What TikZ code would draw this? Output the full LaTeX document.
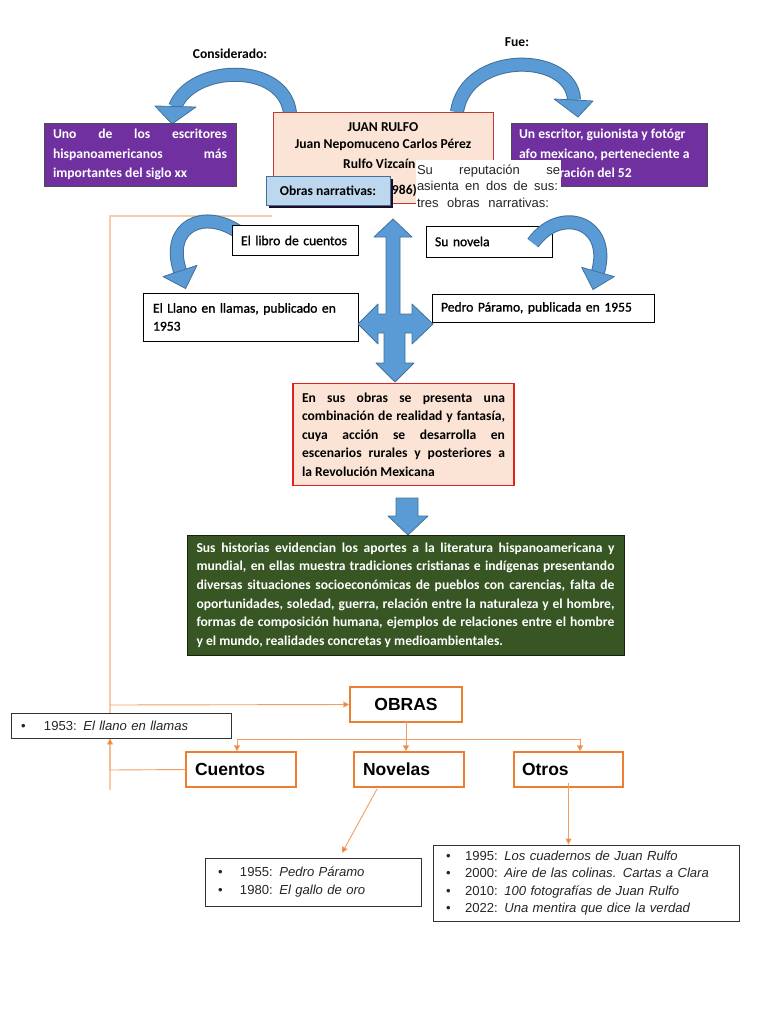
\documentclass[tikz,border=0pt]{standalone}
\usepackage{fontspec}
\setmainfont{Carlito}
\newfontfamily\calsemi[FakeBold=1.2]{Carlito}
\newfontfamily\arialf{Liberation Sans}
\usetikzlibrary{arrows.meta}
\definecolor{abl}{HTML}{5B9BD5}
\definecolor{abld}{HTML}{41719C}
\definecolor{purp}{HTML}{7030A0}
\definecolor{pinkf}{HTML}{FBE4D5}
\definecolor{jred}{HTML}{BE3A34}
\definecolor{rred}{HTML}{E3211F}
\definecolor{lblue}{HTML}{BDD7EE}
\definecolor{dgreen}{HTML}{375623}
\definecolor{orng}{HTML}{ED7D31}
\definecolor{oline}{HTML}{F19E64}
\definecolor{lorng}{HTML}{F8CBAD}
\newcommand{\jl}[2]{\makebox[#1][s]{#2}}
\begin{document}
\begin{tikzpicture}[x=1pt,y=-1pt,
  cband/.style={line width=12pt, abl, line cap=butt},
  cbando/.style={line width=14pt, abld, line cap=butt},
  ahead/.style={fill=abl, draw=abld, line width=0.8pt, line join=round},
  cfont/.style={font=\bfseries\fontsize{13.6}{18}\selectfont},
  purpbox/.style={draw=black!70, fill=purp, line width=0.9pt, text=white, inner sep=0pt, cfont},
  wbox/.style={draw=black, fill=white, line width=0.9pt, inner xsep=9pt, inner ysep=0pt, align=left, font=\calsemi\fontsize{13.6}{18}\selectfont},
  abox/.style={draw=black!80, line width=0.9pt, fill=white, inner ysep=0pt, align=left, text=black!85, font=\arialf\fontsize{13.1}{17.5}\selectfont},
  obox/.style={draw=orng, line width=1.3pt, fill=white, inner ysep=0pt, align=left, font=\arialf\bfseries\fontsize{17.5}{20}\selectfont},
  oarrow/.style={draw=oline, line width=0.9pt, -{Triangle[width=6pt,length=6pt,fill=orng]}},
  oln/.style={draw=oline, line width=0.9pt},
  paleln/.style={draw=lorng, line width=1.2pt}]
\useasboundingbox (0,0) rectangle (768,1024);
\fill[white] (0,0) rectangle (768,1024);

% ---------- top labels ----------
\node[cfont] (consid) at (230,54) {Considerado:};
\node[cfont] (fue) at (517,42) {Fue:};

% ---------- curved arrows (top) ----------
\draw[cbando] (290,113) .. controls (284,62) and (192,64) .. (175,107);
\draw[cband] (290,113) .. controls (284,62) and (192,64) .. (175,107);
\filldraw[ahead] (155,106) -- (196,107) -- (172,124) -- cycle;

\draw[cbando] (457,112) .. controls (466,50) and (572,52) .. (574,100);
\draw[cband] (457,112) .. controls (466,50) and (572,52) .. (574,100);
\filldraw[ahead] (554,99) -- (593,101) -- (578,117) -- cycle;

% ---------- purple boxes ----------
\node[purpbox, minimum width=192pt, minimum height=63pt] (lp) at (140,154.5)
  {\parbox{174pt}{\fontsize{13.6}{19.5}\selectfont\jl{174pt}{Uno de los escritores}\\\jl{174pt}{hispanoamericanos más}\\importantes del siglo xx}};
\node[purpbox, minimum width=196pt, minimum height=63pt] (rp) at (609,154.5)
  {\parbox{180pt}{\fontsize{13.6}{19.5}\selectfont\raggedright Un escritor, guionista y fotógr\\afo mexicano, perteneciente a\\la generación del 52}};

% ---------- Juan Rulfo box ----------
\node[draw=jred, fill=pinkf, line width=0.9pt, minimum width=220pt, minimum height=91pt, inner sep=0pt] (jbox) at (383,157.5) {};
\node[cfont] (jt1) at (383,127) {JUAN RULFO};
\node[cfont] (jt2) at (383,145) {Juan Nepomuceno Carlos Pérez};
\node[cfont] (jt3) at (383,164) {Rulfo Vizcaíno};
\node[cfont] (jt4) at (383,190) {(1917-1986)};

\fill[black!75!purp] (269,179) rectangle (393,208);
\node[draw=abld, fill=lblue, line width=0.8pt, minimum width=124pt, minimum height=29pt, inner sep=0pt, cfont] (obn) at (328,190.5) {Obras narrativas:};

\node[fill=white, minimum width=145pt, minimum height=52pt, inner sep=0pt, text=black!85] (rep) at (488.5,186)
  {\parbox{143pt}{\arialf\fontsize{13}{16.5}\selectfont\jl{143pt}{Su reputación se}\\\jl{141pt}{asienta en dos de sus:}\\\jl{132pt}{tres obras narrativas:}}};

% ---------- pale orange frame line ----------
\coordinate (ltop) at (110,216);
\coordinate (ltopr) at (272,216);
\coordinate (lbot) at (110,790);
\draw[paleln] (ltopr) -- (ltop) -- (lbot);

% ---------- second row ----------
\draw[cbando] (240,233) .. controls (205,208) and (165,225) .. (180,271);
\draw[cband] (240,233) .. controls (205,208) and (165,225) .. (180,271);
\filldraw[ahead] (163,276.6) -- (197,265.4) -- (185.6,288.5) -- cycle;

\node[wbox, text width=108pt, minimum height=30pt] (lib) at (295,240.5) {\mbox{El libro de cuentos}};
\node[wbox, text width=108pt, minimum height=31pt] (nov) at (489,241.5) {\mbox{Su novela}};

\draw[cbando] (533,243) .. controls (560,205) and (612,222) .. (598,272);
\draw[cband] (533,243) .. controls (560,205) and (612,222) .. (598,272);
\filldraw[ahead] (581.7,267.4) -- (614.3,276.6) -- (593,289.5) -- cycle;

\node[wbox, text width=195pt, minimum height=48pt, inner xsep=10pt] (lla) at (250.5,317) {\mbox{El Llano en llamas, publicado en}\\1953};
\node[wbox, text width=204pt, minimum height=28pt] (ped) at (543,308) {\mbox{Pedro Páramo, publicada en 1955}};

% ---------- blue cross arrow ----------
\filldraw[ahead] (393,219) -- (412,237) -- (400,237) -- (400,314) -- (412,314) -- (412,304) -- (433,324)
  -- (412,344) -- (412,333) -- (405,333) -- (405,363) -- (414,363) -- (395,382) -- (376,363)
  -- (384,363) -- (384,333) -- (378,333) -- (378,344) -- (358,324) -- (378,304) -- (378,314)
  -- (386,314) -- (386,237) -- (374,237) -- cycle;

% ---------- red box ----------
\node[draw=rred, fill=pinkf, line width=1.5pt, minimum width=221pt, minimum height=102pt, inner sep=0pt, cfont] (rbox) at (403.5,434.5)
  {\parbox{203pt}{\fontsize{13.6}{18.5}\selectfont\jl{203pt}{En sus obras se presenta una}\\\jl{203pt}{combinación de realidad y fantasía,}\\\jl{203pt}{cuya acción se desarrolla en}\\\jl{203pt}{escenarios rurales y posteriores a}\\la Revolución Mexicana}};

% ---------- down arrow ----------
\filldraw[ahead] (396,498) -- (418,498) -- (418,516) -- (428,516) -- (408,535) -- (388,516) -- (396,516) -- cycle;

% ---------- green box ----------
\node[draw=black!60!dgreen, fill=dgreen, line width=1pt, minimum width=437pt, minimum height=120pt, inner sep=0pt, text=white, cfont] (gbox) at (405.5,595)
  {\parbox{418pt}{\fontsize{13.6}{18.6}\selectfont\jl{418pt}{Sus historias evidencian los aportes a la literatura hispanoamericana y}\\\jl{418pt}{mundial, en ellas muestra tradiciones cristianas e indígenas presentando}\\\jl{418pt}{diversas situaciones socioeconómicas de pueblos con carencias, falta de}\\\jl{418pt}{oportunidades, soledad, guerra, relación entre la naturaleza y el hombre,}\\\jl{418pt}{formas de composición humana, ejemplos de relaciones entre el hombre}\\y el mundo, realidades concretas y medioambientales.}};

% ---------- OBRAS tree ----------
\node[obox, minimum width=112pt, minimum height=35pt, inner xsep=0pt, align=center] (obras) at (406,704.5) {OBRAS};
\node[obox, text width=92pt, inner xsep=9pt, minimum height=35pt] (cue) at (241,769.5) {Cuentos};
\node[obox, text width=92pt, inner xsep=9pt, minimum height=35pt] (nvl) at (409,769.5) {Novelas};
\node[obox, text width=93pt, inner xsep=8pt, minimum height=35pt] (otr) at (568.5,769.5) {Otros};

\node[abox, text width=200pt, inner xsep=10pt, minimum height=25pt] (b1953) at (121,725.5)
  {\makebox[23pt][l]{\textbullet}1953: \textit{El llano en llamas}};
\node[abox, text width=190pt, inner xsep=13pt, minimum height=48pt] (b1955) at (313,882)
  {\makebox[22pt][l]{\textbullet}1955: \textit{Pedro Páramo}\\\makebox[22pt][l]{\textbullet}1980: \textit{El gallo de oro}};
\node[abox, text width=280pt, inner xsep=13pt, minimum height=76pt] (both) at (586,883)
  {\makebox[19pt][l]{\textbullet}1995: \textit{Los cuadernos de Juan Rulfo}\\\makebox[19pt][l]{\textbullet}2000: \textit{Aire de las colinas. Cartas a Clara}\\\makebox[19pt][l]{\textbullet}2010: \textit{100 fotografías de Juan Rulfo}\\\makebox[19pt][l]{\textbullet}2022: \textit{Una mentira que dice la verdad}};

\coordinate (lmid) at (110,705);
\coordinate (lcu) at (110,770);
\coordinate (brL) at (237,739);
\coordinate (brR) at (580,739);
\coordinate (nvs) at (377,789);
\coordinate (ntip) at (342,853);

\draw[oarrow] (lmid) -- (obras.west);
\draw[oarrow] (cue.west) -- (lcu) -- (b1953.south -| lcu);
\draw[oln] (brL) -- (brR);
\draw[oarrow] (brL) -- (cue.north -| brL);
\draw[oarrow] (brR) -- (otr.north -| brR);
\draw[oarrow] ([yshift=2pt]obras.south) -- (obras.south |- nvl.north);
\draw[oarrow] (nvs) -- (ntip);
\draw[oarrow] ([yshift=5pt]otr.south) -- (otr.south |- both.north);
\end{tikzpicture}
\end{document}
